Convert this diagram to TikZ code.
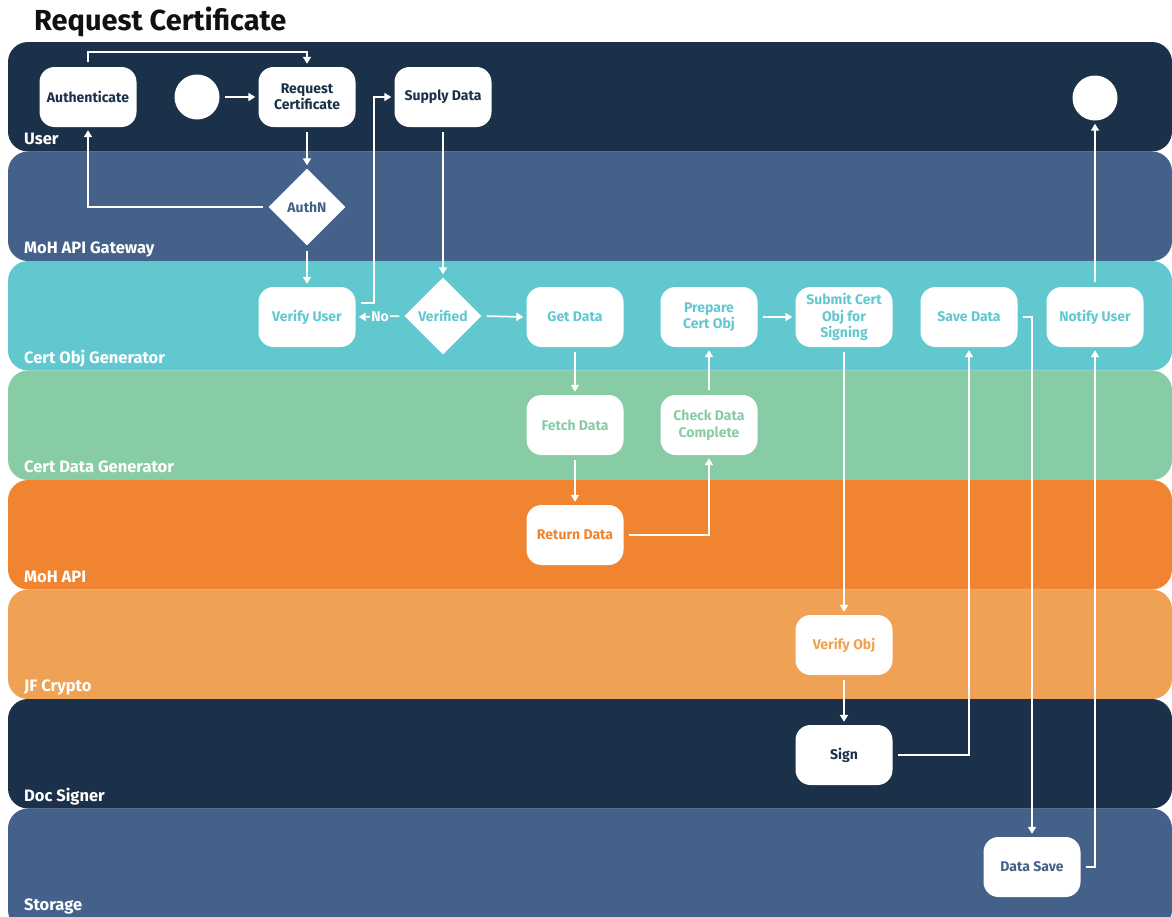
\documentclass[tikz,border=0pt]{standalone}
\usepackage{fontspec}
\setmainfont{Fira Sans}
\usetikzlibrary{shapes.geometric,arrows.meta}
\definecolor{navy}{RGB}{27,49,73}
\definecolor{steel}{RGB}{68,97,138}
\definecolor{teal}{RGB}{98,200,207}
\definecolor{mint}{RGB}{136,204,166}
\definecolor{orng}{RGB}{240,132,48}
\definecolor{lorng}{RGB}{240,162,84}
\definecolor{ttl}{RGB}{17,17,17}
\newcommand\boxfont{\bfseries\fontsize{14}{16.5}\selectfont}
\newcommand\lanefont{\bfseries\fontsize{16.5}{19}\selectfont}
\newcommand\titlefont{\bfseries\fontsize{29}{34}\selectfont}
\begin{document}
\begin{tikzpicture}[x=1pt,y=-1pt,
  lane/.style={rounded corners=20pt},
  box/.style={rectangle,rounded corners=15pt,fill=white,minimum width=97pt,minimum height=60pt,inner sep=2pt,align=center,font=\boxfont},
  dia/.style={diamond,fill=white,minimum width=77pt,minimum height=77pt,inner sep=0pt,font=\boxfont},
  circ/.style={circle,fill=white,minimum size=45pt,inner sep=0pt},
  arr/.style={draw=white,line width=1.7pt,-{Triangle[length=7pt,width=8pt]},shorten <=5pt,shorten >=3pt},
  lanelabel/.style={anchor=base west,text=white,font=\lanefont,inner sep=0pt}
]
\useasboundingbox (0,0) rectangle (1172,916);
% title
\node[anchor=base west,text=ttl,font=\titlefont,inner sep=0pt] (title) at (34,30) {Request Certificate};
% lanes
\fill[navy,lane]  (8,42)    rectangle (1172,151.5);
\fill[steel,lane] (8,151.5) rectangle (1172,261);
\fill[teal,lane]  (8,261)   rectangle (1172,370.5);
\fill[mint,lane]  (8,370.5) rectangle (1172,480);
\fill[orng,lane]  (8,480)   rectangle (1172,589.5);
\fill[lorng,lane] (8,589.5) rectangle (1172,699);
\fill[navy,lane]  (8,699)   rectangle (1172,808.5);
\fill[steel,lane] (8,808.5) rectangle (1172,930);
% lane labels
\node[lanelabel] (l1) at (24,144) {User};
\node[lanelabel] (l2) at (24,253.5) {MoH API Gateway};
\node[lanelabel] (l3) at (24,363) {Cert Obj Generator};
\node[lanelabel] (l4) at (24,472.5) {Cert Data Generator};
\node[lanelabel] (l5) at (24,582) {MoH API};
\node[lanelabel] (l6) at (24,691.5) {JF Crypto};
\node[lanelabel] (l7) at (24,801) {Doc Signer};
\node[lanelabel] (l8) at (24,910) {Storage};
% nodes
\node[box,text=navy] (auth) at (88,97) {Authenticate};
\node[circ] (start) at (197,97) {};
\node[box,text=navy] (rc) at (307,97) {Request\\Certificate};
\node[box,text=navy] (sd) at (443,97) {Supply Data};
\node[circ] (end) at (1095,98) {};
\node[dia,text=steel] (authn) at (307,207) {AuthN};
\node[box,text=teal] (vu) at (307,317) {Verify User};
\node[dia,text=teal] (ver) at (443,316) {Verified};
\node[box,text=teal] (gd) at (575,317) {Get Data};
\node[box,text=teal] (pc) at (709,317) {Prepare\\Cert Obj};
\node[box,text=teal] (sub) at (844,317) {Submit Cert\\Obj for\\Signing};
\node[box,text=teal] (sv) at (969,317) {Save Data};
\node[box,text=teal] (nu) at (1095,317) {Notify User};
\node[box,text=mint] (fd) at (575,425) {Fetch Data};
\node[box,text=mint] (cd) at (709,425) {Check Data\\Complete};
\node[box,text=orng] (rd) at (575,535) {Return Data};
\node[box,text=lorng] (vo) at (844,645) {Verify Obj};
\node[box,text=navy] (sign) at (844,755) {Sign};
\node[box,text=steel] (ds) at (1032,867) {Data Save};
% connectors
\draw[arr] (auth.north) -- ++(0,-15) -| (rc.north);
\draw[arr] (start.east) -- (rc.west);
\draw[arr] (rc.south) -- (authn.north);
\draw[arr] (authn.west) -| (auth.south);
\draw[arr] (authn.south) -- (vu.north);
\draw[arr] ([yshift=14pt]vu.east) -- ++(18,0) |- (sd.west);
\draw[arr] (sd.south) -- (ver.north);
\draw[arr] (ver.west) -- node[fill=teal,text=white,font=\boxfont,inner sep=1pt] (no) {No} (vu.east);
\draw[arr] (ver.east) -- (gd.west);
\draw[arr] (gd.south) -- (fd.north);
\draw[arr] (fd.south) -- (rd.north);
\draw[arr] (rd.east) -| (cd.south);
\draw[arr] (cd.north) -- (pc.south);
\draw[arr] (pc.east) -- (sub.west);
\draw[arr] (sub.south) -- (vo.north);
\draw[arr] (vo.south) -- (sign.north);
\draw[arr] (sign.east) -| (sv.south);
\draw[arr] (sv.east) -| (ds.north);
\draw[arr] (ds.east) -| (nu.south);
\draw[arr] (nu.north) -- (end.south);
\end{tikzpicture}
\end{document}
